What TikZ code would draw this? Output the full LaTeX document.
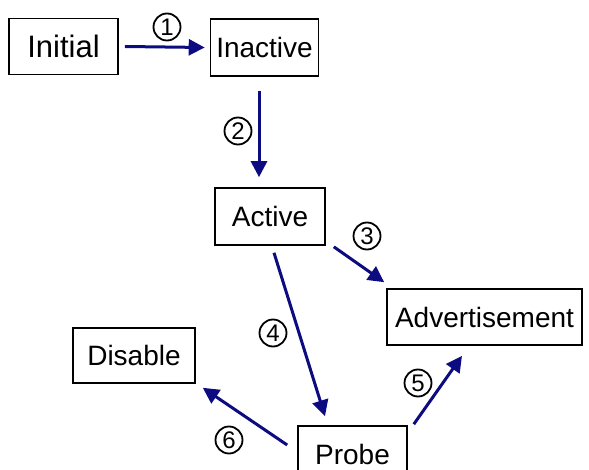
\documentclass[tikz,border=0pt]{standalone}
\usepackage{fontspec}
\setmainfont{Liberation Sans}
\usetikzlibrary{arrows.meta}
\definecolor{arrowblue}{RGB}{12,12,128}
\tikzset{
  state/.style={draw=black, line width=1.6pt, inner sep=0pt, font=\fontsize{28}{30}\selectfont},
  trans/.style={draw=arrowblue, line width=3pt, -{Triangle[length=16pt,width=16pt]}},
  num/.style={circle, draw=black, line width=1.8pt, inner sep=0pt, minimum size=27pt, font=\fontsize{24}{26}\selectfont}
}
\begin{document}
\begin{tikzpicture}[x=1pt,y=-1pt]
\useasboundingbox (0,0) rectangle (589,470);
\node[state, minimum width=109pt, minimum height=56pt, font=\fontsize{31}{33}\selectfont] (initial) at (63.5,46.5) {Initial};
\node[state, minimum width=108pt, minimum height=57pt] (inactive) at (264.5,47.5) {Inactive};
\node[state, minimum width=110pt, minimum height=57pt] (active) at (270,216.5) {Active};
\node[state, minimum width=195pt, minimum height=56pt] (adv) at (484.5,317) {Advertisement};
\node[state, minimum width=122pt, minimum height=55pt] (disable) at (134,355.5) {Disable};
\node[state, minimum width=109pt, minimum height=56pt] (probe) at (352.5,454) {Probe};

\draw[trans] ([xshift=6pt]initial.east) -- ([xshift=-5pt]inactive.west);
\draw[trans] ([xshift=-5.5pt,yshift=-14pt]inactive.south) -- ([xshift=-11pt,yshift=10pt]active.north);
\draw[trans] ([xshift=8pt,yshift=-1pt]active.south east) -- ([xshift=-2pt,yshift=6pt]adv.north west);
\draw[trans] ([xshift=4pt,yshift=-7pt]active.south) -- ([xshift=-27.5pt,yshift=9pt]probe.north);
\draw[trans] ([xshift=6pt,yshift=1pt]probe.north east) -- ([xshift=-22.5pt,yshift=-10pt]adv.south);
\draw[trans] ([xshift=-10pt,yshift=9pt]probe.west) -- ([xshift=7pt,yshift=-4pt]disable.south east);

\node[num] (n1) at (167,27) {1};
\node[num] (n2) at (238,131) {2};
\node[num] (n3) at (367,236) {3};
\node[num] (n4) at (273,333) {4};
\node[num] (n5) at (418,383) {5};
\node[num] (n6) at (229,440) {6};
\end{tikzpicture}
\end{document}
